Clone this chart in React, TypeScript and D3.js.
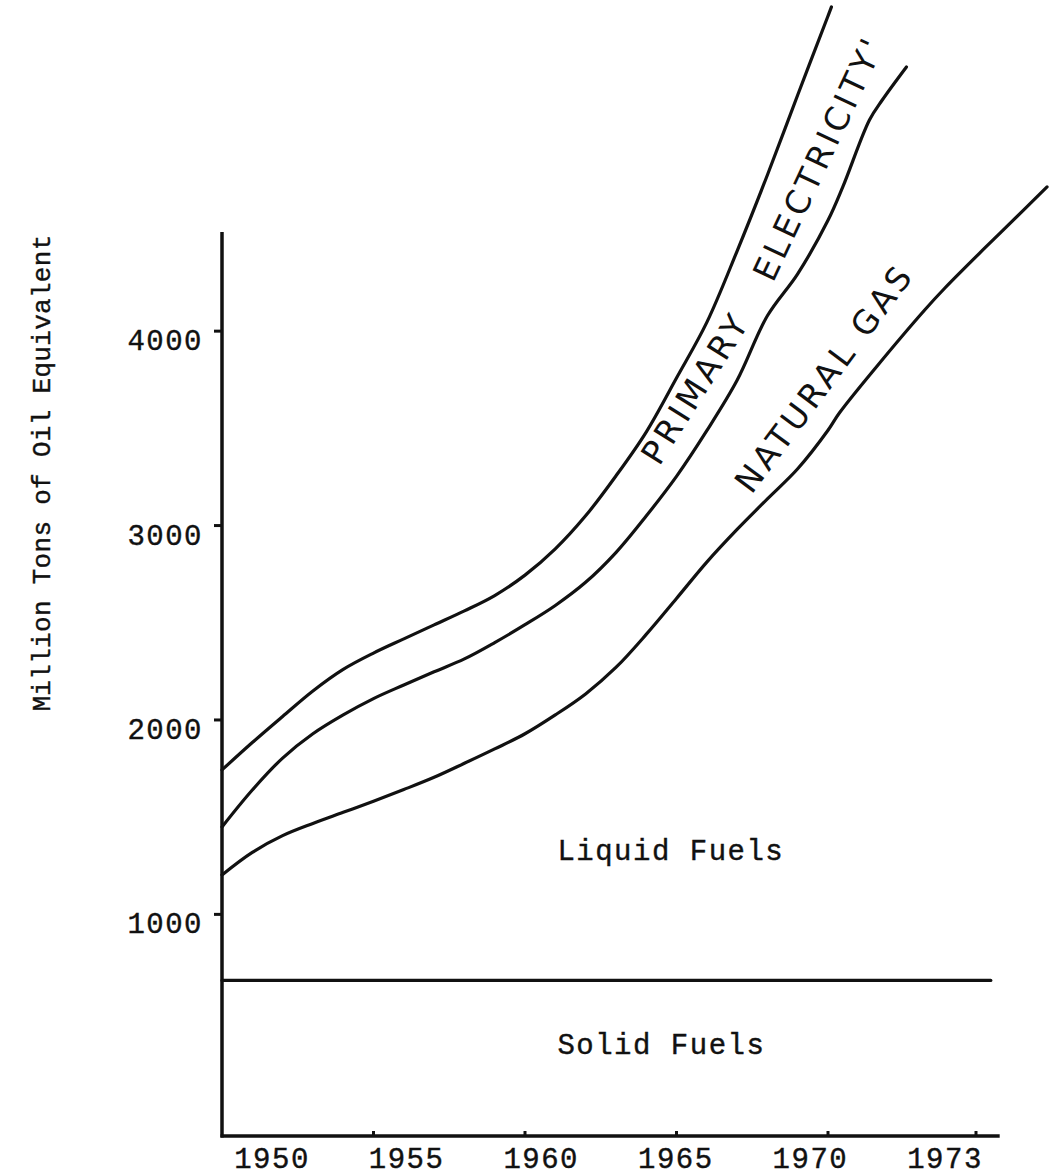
import { useEffect, useRef } from "react";
import * as d3 from "d3";

const WIDTH = 1057;
const HEIGHT = 1176;

// Cumulative totals (million tons oil equivalent).
// Top of the liquid fuels band = bottom of natural gas
const liquidYears = [
  1950, 1951, 1952, 1953, 1954, 1955, 1956, 1957, 1958, 1959, 1960, 1961, 1962, 1963, 1964,
  1965, 1966, 1967, 1968, 1969, 1970, 1970.23, 1970.98, 1971.96, 1972.37, 1973.18, 1974.03, 1974.44,
];
const liquidTotals = [
  1203, 1319, 1405, 1468, 1525, 1582, 1642, 1705, 1777, 1851, 1929, 2026, 2134, 2270, 2440,
  2625, 2812, 2980, 3137, 3292, 3490, 3579, 3816, 4109, 4222, 4428, 4639, 4742,
];

// Top of natural gas = bottom of primary electricity
const gasYears = [
  1950, 1951, 1952, 1953, 1954, 1955, 1956, 1957, 1958, 1959, 1960, 1961, 1962, 1963, 1964,
  1965, 1966, 1967, 1968, 1969, 1970, 1970.3, 1970.84, 1971.1, 1971.59,
];
const gasTotals = [
  1450, 1640, 1804, 1929, 2026, 2110, 2180, 2248, 2314, 2398, 2490, 2589, 2708, 2861, 3049,
  3253, 3488, 3747, 4079, 4295, 4570, 4742, 5086, 5189, 5359,
];

// Top of primary electricity (grand total)
const electricityYears = [
  1950, 1951, 1952, 1953, 1954, 1955, 1956, 1957, 1958, 1959, 1960, 1961, 1962, 1963, 1964,
  1965, 1966, 1967, 1968, 1969, 1970, 1970.07,
];
const electricityTotals = [
  1743, 1884, 2018, 2149, 2260, 2344, 2417, 2489, 2561, 2640, 2745, 2880, 3050, 3255, 3481,
  3759, 4045, 4412, 4803, 5215, 5621, 5668,
];

// Top of solid fuels (flat)
const solidYears = [1950, 1973.3];
const solidTotals = [660, 660];

const yTicks = [1000, 2000, 3000, 4000];
const xTicks = [1955, 1960, 1965, 1970, 1973];
const xTickLabels = ["1950", "1955", "1960", "1965", "1970", "1973"];

const bandLabels = ["Liquid Fuels", "Solid Fuels"];
const bandLabelYears = [1961.07, 1961.07];
const bandLabelValues = [1280, 282];

const curveLabels = ["PRIMARY", "ELECTRICITY'", "NATURAL GAS"];
const curveLabelYears = [1965.63, 1969.7, 1969.88];
const curveLabelValues = [3708, 4890, 3759];
const curveLabelAngles = [-57.8, -64.9, -53.4];

const TYPE_FONT = "'Liberation Mono', 'Courier New', monospace";
const HAND_FONT = "'DejaVu Sans', sans-serif";
const INK = "#111";

export default function App() {
  const svgRef = useRef<SVGSVGElement>(null);

  useEffect(() => {
    if (!svgRef.current) return;
    const svg = d3.select(svgRef.current);
    svg.selectAll("*").remove();

    // hand-drawn axis: 1973 is spaced out further than the other years
    const x = d3.scaleLinear().domain([1950, 1970, 1973]).range([222, 828, 976]);
    // the drawn baseline sits a little under zero
    const y = d3.scaleLinear().domain([-140, 4510]).range([1136, 232]);
    const xEnd = 1973.48;

    svg.append("rect").attr("width", WIDTH).attr("height", HEIGHT).attr("fill", "#fff");

    // typewriter text helper
    const typed = (sel: d3.Selection<SVGTextElement, any, any, any>, size: number) =>
      sel
        .style("font-family", TYPE_FONT)
        .style("font-size", `${size}px`)
        .style("letter-spacing", "1.5px")
        .style("fill", INK)
        .style("stroke", INK)
        .style("stroke-width", "0.4px");

    // axes
    svg
      .append("line")
      .attr("x1", x(1950))
      .attr("x2", x(1950))
      .attr("y1", y(-140) + 1.5)
      .attr("y2", y(4510))
      .attr("stroke", INK)
      .attr("stroke-width", 3.5);

    svg
      .append("line")
      .attr("x1", x(1950) - 1.5)
      .attr("x2", x(xEnd))
      .attr("y1", y(-140))
      .attr("y2", y(-140))
      .attr("stroke", INK)
      .attr("stroke-width", 3.5);

    // y ticks
    const yt = svg.append("g");
    yt.selectAll("line")
      .data(yTicks)
      .enter()
      .append("line")
      .attr("x1", x(1950) - 8)
      .attr("x2", x(1950))
      .attr("y1", (d) => y(d))
      .attr("y2", (d) => y(d))
      .attr("stroke", INK)
      .attr("stroke-width", 3);
    typed(
      yt
        .selectAll("text")
        .data(yTicks)
        .enter()
        .append("text")
        .attr("x", x(1950) - 19)
        .attr("y", (d) => y(d) + 19)
        .attr("text-anchor", "end")
        .text((d) => d),
      29
    );

    // x ticks (small marks above the axis)
    svg
      .append("g")
      .selectAll("line")
      .data(xTicks)
      .enter()
      .append("line")
      .attr("x1", (d) => x(d))
      .attr("x2", (d) => x(d))
      .attr("y1", y(-140))
      .attr("y2", y(-140) - 5)
      .attr("stroke", INK)
      .attr("stroke-width", 3);

    // typed year labels are evenly spaced, independent of the tick marks
    const labelX = d3.scalePoint<string>().domain(xTickLabels).range([272, 945]);
    typed(
      svg
        .append("g")
        .selectAll("text")
        .data(xTickLabels)
        .enter()
        .append("text")
        .attr("x", (d) => labelX(d) || 0)
        .attr("y", y(-140) + 32)
        .attr("text-anchor", "middle")
        .text((d) => d),
      29
    );

    // y axis title
    typed(
      svg
        .append("text")
        .attr("transform", `translate(50,473) rotate(-90)`)
        .attr("text-anchor", "middle")
        .text("Million Tons of Oil Equivalent"),
      26
    ).style("letter-spacing", "0.3px");

    // boundary curves
    const series: [number[], number[]][] = [
      [solidYears, solidTotals],
      [liquidYears, liquidTotals],
      [gasYears, gasTotals],
      [electricityYears, electricityTotals],
    ];
    const line = d3
      .line<[number, number]>()
      .x((d) => x(d[0]))
      .y((d) => y(d[1]))
      .curve(d3.curveCatmullRom.alpha(0.5));

    svg
      .append("g")
      .selectAll("path")
      .data(series.map(([ys, vs]) => ys.map((yr, i) => [yr, vs[i]] as [number, number])))
      .enter()
      .append("path")
      .attr("d", (d) => line(d))
      .attr("fill", "none")
      .attr("stroke", INK)
      .attr("stroke-width", 3.2)
      .attr("stroke-linecap", "round");

    // band labels
    typed(
      svg
        .append("g")
        .selectAll("text")
        .data(bandLabels)
        .enter()
        .append("text")
        .attr("x", (_, i) => x(bandLabelYears[i]))
        .attr("y", (_, i) => y(bandLabelValues[i]))
        .text((d) => d),
      29
    );

    // hand-lettered labels along the curves
    svg
      .append("g")
      .selectAll("text")
      .data(curveLabels)
      .enter()
      .append("text")
      .attr(
        "transform",
        (_, i) =>
          `translate(${x(curveLabelYears[i])},${y(curveLabelValues[i])}) rotate(${curveLabelAngles[i]})`
      )
      .attr("text-anchor", "middle")
      .attr("dominant-baseline", "central")
      .style("font-family", HAND_FONT)
      .style("font-size", "33px")
      .style("letter-spacing", "4px")
      .style("fill", INK)
      .text((d) => d);
  }, []);

  return (
    <svg
      ref={svgRef}
      width={WIDTH}
      height={HEIGHT}
      style={{ position: "absolute", left: 0, top: 0, background: "#fff" }}
    />
  );
}
